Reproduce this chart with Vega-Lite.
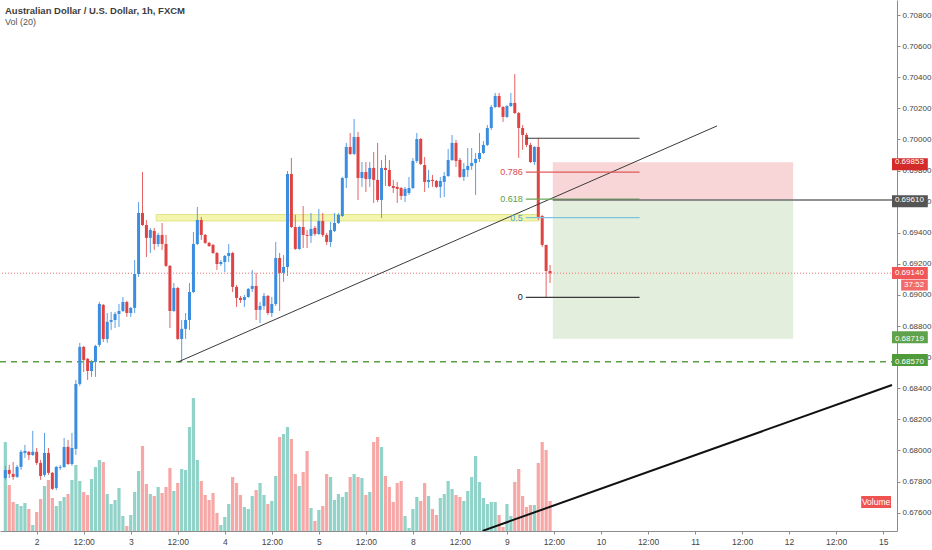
{
  "$schema": "https://vega.github.io/schema/vega-lite/v6.json",
  "width": 897,
  "height": 531,
  "autosize": {"type": "none"},
  "padding": {"left": 0, "top": 0, "right": 35, "bottom": 19},
  "background": "#ffffff",
  "title": {
    "text": "Australian Dollar / U.S. Dollar, 1h, FXCM",
    "subtitle": "Vol (20)",
    "anchor": "start",
    "frame": "group",
    "offset": -27,
    "dx": 5,
    "fontSize": 9.5,
    "fontWeight": 600,
    "color": "#3d3d3d",
    "subtitleFontSize": 9,
    "subtitleColor": "#555555",
    "subtitlePadding": 3
  },
  "config": {
    "view": {"stroke": null},
    "font": "Liberation Sans Narrow, Liberation Sans, sans-serif",
    "text": {"font": "Liberation Sans Narrow, Liberation Sans, sans-serif"},
    "axis": {"labelFont": "Liberation Sans Narrow, Liberation Sans, sans-serif", "grid": false}
  },
  "datasets": {
    "bars": [
      {"i": -1, "o": 0.67823, "h": 0.67901, "l": 0.67811, "c": 0.67875, "v": 2225},
      {"i": 0, "o": 0.67875, "h": 0.67907, "l": 0.67823, "c": 0.67849, "v": 1150},
      {"i": 1, "o": 0.67849, "h": 0.67926, "l": 0.67811, "c": 0.6783, "v": 725},
      {"i": 2, "o": 0.6783, "h": 0.67907, "l": 0.67823, "c": 0.67894, "v": 675},
      {"i": 3, "o": 0.67894, "h": 0.68004, "l": 0.67875, "c": 0.67991, "v": 625},
      {"i": 4, "o": 0.67984, "h": 0.68036, "l": 0.67952, "c": 0.67997, "v": 700},
      {"i": 5, "o": 0.67991, "h": 0.67997, "l": 0.67939, "c": 0.67971, "v": 550},
      {"i": 6, "o": 0.67971, "h": 0.68126, "l": 0.67965, "c": 0.67991, "v": 150},
      {"i": 7, "o": 0.67991, "h": 0.68016, "l": 0.67907, "c": 0.6792, "v": 475},
      {"i": 8, "o": 0.6792, "h": 0.67939, "l": 0.67811, "c": 0.67836, "v": 800},
      {"i": 9, "o": 0.67843, "h": 0.68113, "l": 0.6783, "c": 0.67984, "v": 1125},
      {"i": 10, "o": 0.67984, "h": 0.68016, "l": 0.67843, "c": 0.67856, "v": 1275},
      {"i": 11, "o": 0.67856, "h": 0.67862, "l": 0.67746, "c": 0.67753, "v": 825},
      {"i": 12, "o": 0.67759, "h": 0.67901, "l": 0.67746, "c": 0.67894, "v": 625},
      {"i": 13, "o": 0.67888, "h": 0.67907, "l": 0.67875, "c": 0.67894, "v": 750},
      {"i": 14, "o": 0.67894, "h": 0.68081, "l": 0.67888, "c": 0.68023, "v": 850},
      {"i": 15, "o": 0.68023, "h": 0.68068, "l": 0.67907, "c": 0.67913, "v": 925},
      {"i": 16, "o": 0.67913, "h": 0.68113, "l": 0.67901, "c": 0.68016, "v": 1275},
      {"i": 17, "o": 0.6801, "h": 0.68454, "l": 0.67971, "c": 0.68428, "v": 1650},
      {"i": 18, "o": 0.68428, "h": 0.68692, "l": 0.68415, "c": 0.68666, "v": 1250},
      {"i": 19, "o": 0.68666, "h": 0.68672, "l": 0.68505, "c": 0.68582, "v": 975},
      {"i": 20, "o": 0.68589, "h": 0.68595, "l": 0.68454, "c": 0.68511, "v": 900},
      {"i": 21, "o": 0.68511, "h": 0.68582, "l": 0.68473, "c": 0.68569, "v": 1300},
      {"i": 22, "o": 0.68569, "h": 0.68679, "l": 0.68473, "c": 0.68672, "v": 1600},
      {"i": 23, "o": 0.68679, "h": 0.68955, "l": 0.68666, "c": 0.68942, "v": 1775},
      {"i": 24, "o": 0.68936, "h": 0.68942, "l": 0.68698, "c": 0.68717, "v": 1725},
      {"i": 25, "o": 0.68717, "h": 0.68884, "l": 0.68692, "c": 0.68827, "v": 925},
      {"i": 26, "o": 0.68827, "h": 0.68891, "l": 0.68775, "c": 0.68839, "v": 675},
      {"i": 27, "o": 0.68839, "h": 0.68891, "l": 0.68788, "c": 0.68878, "v": 775},
      {"i": 28, "o": 0.68878, "h": 0.68942, "l": 0.68794, "c": 0.68897, "v": 1075},
      {"i": 29, "o": 0.68897, "h": 0.68987, "l": 0.68891, "c": 0.68955, "v": 375},
      {"i": 30, "o": 0.68955, "h": 0.68962, "l": 0.68859, "c": 0.68884, "v": 125},
      {"i": 31, "o": 0.68884, "h": 0.68923, "l": 0.68859, "c": 0.68917, "v": 400},
      {"i": 32, "o": 0.68917, "h": 0.69225, "l": 0.68884, "c": 0.69135, "v": 975},
      {"i": 33, "o": 0.69135, "h": 0.69598, "l": 0.69116, "c": 0.69527, "v": 1500},
      {"i": 34, "o": 0.69527, "h": 0.69791, "l": 0.69444, "c": 0.6945, "v": 2125},
      {"i": 35, "o": 0.6945, "h": 0.69482, "l": 0.69244, "c": 0.69367, "v": 1175},
      {"i": 36, "o": 0.69367, "h": 0.69431, "l": 0.6927, "c": 0.69418, "v": 925},
      {"i": 37, "o": 0.69412, "h": 0.69431, "l": 0.6929, "c": 0.69328, "v": 875},
      {"i": 38, "o": 0.69328, "h": 0.69399, "l": 0.69309, "c": 0.69386, "v": 1100},
      {"i": 39, "o": 0.69386, "h": 0.69463, "l": 0.6929, "c": 0.69328, "v": 950},
      {"i": 40, "o": 0.69328, "h": 0.69386, "l": 0.6918, "c": 0.69187, "v": 1100},
      {"i": 41, "o": 0.69187, "h": 0.69193, "l": 0.68788, "c": 0.68897, "v": 1575},
      {"i": 42, "o": 0.68897, "h": 0.69077, "l": 0.68891, "c": 0.69045, "v": 1000},
      {"i": 43, "o": 0.69045, "h": 0.69052, "l": 0.68711, "c": 0.68717, "v": 1200},
      {"i": 44, "o": 0.68717, "h": 0.68839, "l": 0.68569, "c": 0.68782, "v": 1550},
      {"i": 45, "o": 0.68782, "h": 0.68884, "l": 0.68717, "c": 0.68839, "v": 1525},
      {"i": 46, "o": 0.68839, "h": 0.69077, "l": 0.68775, "c": 0.69019, "v": 2600},
      {"i": 47, "o": 0.69019, "h": 0.69405, "l": 0.69013, "c": 0.69328, "v": 3325},
      {"i": 48, "o": 0.69328, "h": 0.69566, "l": 0.69322, "c": 0.69482, "v": 1775},
      {"i": 49, "o": 0.69482, "h": 0.69502, "l": 0.69354, "c": 0.69386, "v": 1250},
      {"i": 50, "o": 0.69386, "h": 0.69392, "l": 0.69328, "c": 0.69335, "v": 900},
      {"i": 51, "o": 0.69335, "h": 0.69341, "l": 0.69309, "c": 0.69315, "v": 775},
      {"i": 52, "o": 0.69322, "h": 0.69328, "l": 0.69264, "c": 0.6927, "v": 950},
      {"i": 53, "o": 0.6927, "h": 0.69277, "l": 0.69161, "c": 0.69199, "v": 450},
      {"i": 54, "o": 0.69199, "h": 0.69225, "l": 0.69187, "c": 0.69212, "v": 150},
      {"i": 55, "o": 0.69212, "h": 0.69257, "l": 0.69148, "c": 0.69251, "v": 350},
      {"i": 56, "o": 0.69251, "h": 0.69328, "l": 0.69212, "c": 0.6927, "v": 675},
      {"i": 57, "o": 0.6927, "h": 0.69277, "l": 0.69019, "c": 0.69052, "v": 1350},
      {"i": 58, "o": 0.69052, "h": 0.69064, "l": 0.68923, "c": 0.68981, "v": 1200},
      {"i": 59, "o": 0.68981, "h": 0.68994, "l": 0.68949, "c": 0.68968, "v": 900},
      {"i": 60, "o": 0.68968, "h": 0.69, "l": 0.68923, "c": 0.68987, "v": 600},
      {"i": 61, "o": 0.68987, "h": 0.69045, "l": 0.68981, "c": 0.69039, "v": 550},
      {"i": 62, "o": 0.69039, "h": 0.69161, "l": 0.69019, "c": 0.69058, "v": 875},
      {"i": 63, "o": 0.69058, "h": 0.69142, "l": 0.68839, "c": 0.68904, "v": 1025},
      {"i": 64, "o": 0.68904, "h": 0.68955, "l": 0.6882, "c": 0.68929, "v": 1200},
      {"i": 65, "o": 0.68929, "h": 0.69013, "l": 0.68904, "c": 0.68994, "v": 900},
      {"i": 66, "o": 0.68994, "h": 0.69, "l": 0.68872, "c": 0.68884, "v": 675},
      {"i": 67, "o": 0.68884, "h": 0.68987, "l": 0.68859, "c": 0.68942, "v": 750},
      {"i": 68, "o": 0.68942, "h": 0.69341, "l": 0.68929, "c": 0.69238, "v": 1375},
      {"i": 69, "o": 0.69238, "h": 0.6927, "l": 0.68897, "c": 0.69142, "v": 2350},
      {"i": 70, "o": 0.69142, "h": 0.69257, "l": 0.69084, "c": 0.6918, "v": 2425},
      {"i": 71, "o": 0.6918, "h": 0.69797, "l": 0.69122, "c": 0.69778, "v": 2600},
      {"i": 72, "o": 0.69778, "h": 0.69881, "l": 0.69431, "c": 0.69437, "v": 2300},
      {"i": 73, "o": 0.69437, "h": 0.69515, "l": 0.6929, "c": 0.69296, "v": 1425},
      {"i": 74, "o": 0.69296, "h": 0.69444, "l": 0.6929, "c": 0.69437, "v": 1125},
      {"i": 75, "o": 0.69437, "h": 0.69572, "l": 0.69302, "c": 0.69386, "v": 1475},
      {"i": 76, "o": 0.69386, "h": 0.69418, "l": 0.69302, "c": 0.6938, "v": 2000},
      {"i": 77, "o": 0.6938, "h": 0.69527, "l": 0.69335, "c": 0.69425, "v": 575},
      {"i": 78, "o": 0.69431, "h": 0.69444, "l": 0.6938, "c": 0.69392, "v": 250},
      {"i": 79, "o": 0.69392, "h": 0.69553, "l": 0.69386, "c": 0.69476, "v": 525},
      {"i": 80, "o": 0.69476, "h": 0.69527, "l": 0.69373, "c": 0.69386, "v": 625},
      {"i": 81, "o": 0.69386, "h": 0.69399, "l": 0.69322, "c": 0.69341, "v": 1425},
      {"i": 82, "o": 0.69341, "h": 0.6947, "l": 0.69309, "c": 0.69418, "v": 1350},
      {"i": 83, "o": 0.69412, "h": 0.69527, "l": 0.69405, "c": 0.69463, "v": 775},
      {"i": 84, "o": 0.69463, "h": 0.69527, "l": 0.69457, "c": 0.69515, "v": 925},
      {"i": 85, "o": 0.69508, "h": 0.69759, "l": 0.69502, "c": 0.69752, "v": 850},
      {"i": 86, "o": 0.69752, "h": 0.69978, "l": 0.69688, "c": 0.69952, "v": 975},
      {"i": 87, "o": 0.69952, "h": 0.70042, "l": 0.699, "c": 0.69907, "v": 1350},
      {"i": 88, "o": 0.69907, "h": 0.70132, "l": 0.699, "c": 0.70016, "v": 1425},
      {"i": 89, "o": 0.70016, "h": 0.70048, "l": 0.69611, "c": 0.69752, "v": 1350},
      {"i": 90, "o": 0.69752, "h": 0.69855, "l": 0.69695, "c": 0.69791, "v": 1325},
      {"i": 91, "o": 0.69791, "h": 0.69855, "l": 0.69662, "c": 0.69746, "v": 900},
      {"i": 92, "o": 0.69746, "h": 0.69855, "l": 0.69695, "c": 0.69817, "v": 975},
      {"i": 93, "o": 0.69817, "h": 0.6992, "l": 0.69592, "c": 0.6974, "v": 2225},
      {"i": 94, "o": 0.6974, "h": 0.69978, "l": 0.69598, "c": 0.69611, "v": 2350},
      {"i": 95, "o": 0.69611, "h": 0.69868, "l": 0.69495, "c": 0.69817, "v": 2100},
      {"i": 96, "o": 0.69817, "h": 0.699, "l": 0.69701, "c": 0.69804, "v": 1375},
      {"i": 97, "o": 0.69804, "h": 0.69868, "l": 0.69695, "c": 0.69701, "v": 1100},
      {"i": 98, "o": 0.69701, "h": 0.6974, "l": 0.69656, "c": 0.69688, "v": 725},
      {"i": 99, "o": 0.69695, "h": 0.69727, "l": 0.69592, "c": 0.69682, "v": 1200},
      {"i": 100, "o": 0.69688, "h": 0.69695, "l": 0.69611, "c": 0.69637, "v": 1250},
      {"i": 101, "o": 0.69637, "h": 0.69695, "l": 0.69598, "c": 0.69682, "v": 375},
      {"i": 102, "o": 0.69656, "h": 0.69759, "l": 0.69643, "c": 0.69688, "v": 75},
      {"i": 103, "o": 0.69688, "h": 0.69881, "l": 0.69682, "c": 0.69862, "v": 550},
      {"i": 104, "o": 0.69862, "h": 0.70042, "l": 0.69849, "c": 0.70003, "v": 850},
      {"i": 105, "o": 0.70003, "h": 0.7001, "l": 0.69836, "c": 0.69842, "v": 750},
      {"i": 106, "o": 0.69836, "h": 0.69887, "l": 0.69662, "c": 0.69727, "v": 1200},
      {"i": 107, "o": 0.69727, "h": 0.69804, "l": 0.69688, "c": 0.6974, "v": 875},
      {"i": 108, "o": 0.6974, "h": 0.69772, "l": 0.69695, "c": 0.69733, "v": 550},
      {"i": 109, "o": 0.69733, "h": 0.6974, "l": 0.69688, "c": 0.69695, "v": 400},
      {"i": 110, "o": 0.69695, "h": 0.69759, "l": 0.69624, "c": 0.69733, "v": 825},
      {"i": 111, "o": 0.69727, "h": 0.69791, "l": 0.6963, "c": 0.69765, "v": 925},
      {"i": 112, "o": 0.69765, "h": 0.69939, "l": 0.69759, "c": 0.69868, "v": 1250},
      {"i": 113, "o": 0.69868, "h": 0.70029, "l": 0.69862, "c": 0.69978, "v": 1050},
      {"i": 114, "o": 0.69978, "h": 0.69997, "l": 0.69823, "c": 0.69862, "v": 900},
      {"i": 115, "o": 0.69868, "h": 0.69881, "l": 0.69752, "c": 0.69759, "v": 850},
      {"i": 116, "o": 0.69759, "h": 0.69849, "l": 0.69733, "c": 0.6981, "v": 750},
      {"i": 117, "o": 0.69804, "h": 0.69945, "l": 0.69759, "c": 0.6983, "v": 1000},
      {"i": 118, "o": 0.6983, "h": 0.69945, "l": 0.69804, "c": 0.69849, "v": 1350},
      {"i": 119, "o": 0.69849, "h": 0.69913, "l": 0.69643, "c": 0.69875, "v": 1875},
      {"i": 120, "o": 0.69875, "h": 0.70042, "l": 0.69855, "c": 0.69913, "v": 1225},
      {"i": 121, "o": 0.69913, "h": 0.6999, "l": 0.69907, "c": 0.69965, "v": 825},
      {"i": 122, "o": 0.69965, "h": 0.70093, "l": 0.69958, "c": 0.70074, "v": 675},
      {"i": 123, "o": 0.70074, "h": 0.70222, "l": 0.70061, "c": 0.70209, "v": 725},
      {"i": 124, "o": 0.70209, "h": 0.70299, "l": 0.70203, "c": 0.7028, "v": 725},
      {"i": 125, "o": 0.7028, "h": 0.70299, "l": 0.70203, "c": 0.70209, "v": 400},
      {"i": 126, "o": 0.70209, "h": 0.70215, "l": 0.70113, "c": 0.70145, "v": 100},
      {"i": 127, "o": 0.70145, "h": 0.70222, "l": 0.70138, "c": 0.70215, "v": 675},
      {"i": 128, "o": 0.70215, "h": 0.70299, "l": 0.70209, "c": 0.70235, "v": 375},
      {"i": 129, "o": 0.70235, "h": 0.70421, "l": 0.70164, "c": 0.7017, "v": 1225},
      {"i": 130, "o": 0.7017, "h": 0.70177, "l": 0.69881, "c": 0.70074, "v": 1550},
      {"i": 131, "o": 0.70074, "h": 0.70093, "l": 0.69933, "c": 0.70029, "v": 875},
      {"i": 132, "o": 0.70029, "h": 0.70042, "l": 0.69952, "c": 0.69965, "v": 600},
      {"i": 133, "o": 0.69965, "h": 0.69978, "l": 0.69849, "c": 0.69855, "v": 650},
      {"i": 134, "o": 0.69855, "h": 0.69958, "l": 0.69836, "c": 0.69952, "v": 650},
      {"i": 135, "o": 0.69952, "h": 0.70008, "l": 0.69482, "c": 0.69502, "v": 1700},
      {"i": 136, "o": 0.69508, "h": 0.69515, "l": 0.69309, "c": 0.69322, "v": 2225},
      {"i": 137, "o": 0.69322, "h": 0.69322, "l": 0.68985, "c": 0.69154, "v": 2025},
      {"i": 138, "o": 0.69154, "h": 0.69193, "l": 0.69077, "c": 0.6914, "v": 750}
    ],
    "fib": [
      {"level": "1", "label": "", "p": 0.70008, "from": 131.82, "to": 160.84},
      {"level": "0.786", "label": "0.786", "p": 0.6979, "from": 131.82, "to": 160.84},
      {"level": "0.618", "label": "0.618", "p": 0.69617, "from": 131.82, "to": 160.84},
      {"level": "0.5", "label": "0.5", "p": 0.69497, "from": 131.82, "to": 160.84},
      {"level": "0", "label": "0", "p": 0.68985, "from": 131.82, "to": 160.84}
    ],
    "tags": [
      {"p": 0.69853, "t": "0.69853", "k": "stop"},
      {"p": 0.6961, "t": "0.69610", "k": "entry"},
      {"p": 0.6914, "t": "0.69140", "k": "last"},
      {"p": 0.68719, "t": "0.68719", "k": "target"},
      {"p": 0.6857, "t": "0.68570", "k": "line"}
    ]
  },
  "layer": [
    {
      "data": {"values": [
        {"k": "stop", "from": 138.7, "to": 200.03, "top": 0.69853, "bottom": 0.6961},
        {"k": "target", "from": 138.7, "to": 200.03, "top": 0.6961, "bottom": 0.68719}
      ]},
      "mark": {"type": "rect"},
      "encoding": {
        "x": {"field": "from", "type": "quantitative", "scale": {"domain": [-1.085, 225.26], "nice": false, "zero": false}, "axis": null},
        "x2": {"field": "to"},
        "y": {"field": "top", "type": "quantitative", "scale": {"domain": [0.67482, 0.70897], "nice": false, "zero": false}, "axis": null},
        "y2": {"field": "bottom"},
        "color": {"field": "k", "type": "nominal", "scale": {"domain": ["stop", "target"], "range": ["#f8d6d8", "#e4eedd"]}, "legend": null}
      }
    },
    {
      "data": {"values": [{"from": 37.5, "to": 135.2, "lo": 0.69476, "hi": 0.69517}]},
      "mark": {"type": "rect", "fill": "#f4f6ad", "stroke": "#e0e388", "strokeWidth": 1},
      "encoding": {
        "x": {"field": "from", "type": "quantitative", "scale": {"domain": [-1.085, 225.26], "nice": false, "zero": false}, "axis": null},
        "x2": {"field": "to"},
        "y": {"field": "hi", "type": "quantitative", "scale": {"domain": [0.67482, 0.70897], "nice": false, "zero": false}, "axis": null},
        "y2": {"field": "lo"}
      }
    },
    {
      "data": {"name": "bars"},
      "mark": {"type": "bar", "size": 3.2},
      "encoding": {
        "x": {"field": "i", "type": "quantitative", "scale": {"domain": [-1.085, 225.26], "nice": false, "zero": false}, "axis": null},
        "y": {"field": "v", "type": "quantitative", "scale": {"domain": [0, 13275], "nice": false}, "axis": null},
        "color": {"condition": {"test": "datum.c >= datum.o", "value": "#92d3c9"}, "value": "#f6a7a6"}
      }
    },
    {
      "data": {"values": [{"lo": 575, "hi": 875, "from": 217.4, "to": 225.0}]},
      "mark": {"type": "rect", "color": "#ef5350"},
      "encoding": {
        "x": {"field": "from", "type": "quantitative", "scale": {"domain": [-1.085, 225.26], "nice": false, "zero": false}, "axis": null},
        "x2": {"field": "to"},
        "y": {"field": "lo", "type": "quantitative", "scale": {"domain": [0, 13275], "nice": false}, "axis": null},
        "y2": {"field": "hi"}
      }
    },
    {
      "data": {"values": [{"v": 725, "t": "Volume", "mid": 221.2}]},
      "mark": {"type": "text", "color": "#ffffff", "fontSize": 8.5, "align": "center", "baseline": "middle"},
      "encoding": {
        "x": {"field": "mid", "type": "quantitative", "scale": {"domain": [-1.085, 225.26], "nice": false, "zero": false}, "axis": null},
        "y": {"field": "v", "type": "quantitative", "scale": {"domain": [0, 13275], "nice": false}, "axis": null},
        "text": {"field": "t"}
      }
    },
    {
      "data": {"values": [{"p": 0.6857}]},
      "mark": {"type": "rule", "color": "#5c9e44", "strokeWidth": 1.5, "strokeDash": [6, 5]},
      "encoding": {
        "y": {"field": "p", "type": "quantitative", "scale": {"domain": [0.67482, 0.70897], "nice": false, "zero": false}, "axis": null}
      }
    },
    {
      "data": {"values": [{"p": 0.6914}]},
      "mark": {"type": "rule", "color": "#f07070", "strokeWidth": 1, "strokeDash": [1, 2]},
      "encoding": {
        "y": {"field": "p", "type": "quantitative", "scale": {"domain": [0.67482, 0.70897], "nice": false, "zero": false}, "axis": null}
      }
    },
    {
      "data": {"name": "bars"},
      "mark": {"type": "rule", "strokeWidth": 1},
      "encoding": {
        "x": {"field": "i", "type": "quantitative", "scale": {"domain": [-1.085, 225.26], "nice": false, "zero": false}, "axis": null},
        "y": {"field": "l", "type": "quantitative", "scale": {"domain": [0.67482, 0.70897], "nice": false, "zero": false}, "axis": null},
        "y2": {"field": "h"},
        "color": {"condition": {"test": "datum.c >= datum.o", "value": "#5a9fe4"}, "value": "#e66363"}
      }
    },
    {
      "data": {"name": "bars"},
      "mark": {"type": "bar", "size": 3},
      "encoding": {
        "x": {
          "field": "i", "type": "quantitative",
          "scale": {"domain": [-1.085, 225.26], "nice": false, "zero": false},
          "axis": {
            "orient": "bottom",
            "title": null,
            "grid": false,
            "values": [7, 19, 31, 43, 55, 67, 79, 91, 103, 115, 127, 139, 151, 163, 175, 187, 199, 211, 223],
            "labelExpr": "(datum.value - 7) % 24 == 12 ? '12:00' : ['2','3','4','5','8','9','10','11','12','15'][(datum.value - 7) / 24]",
            "labelFontSize": 8.5,
            "labelColor": "#444444",
            "labelPadding": 3,
            "labelFlush": false,
            "labelOverlap": false,
            "domainColor": "#8c8c8c",
            "tickColor": "#8c8c8c",
            "tickSize": 3
          }
        },
        "y": {
          "field": "o", "type": "quantitative",
          "scale": {"domain": [0.67482, 0.70897], "nice": false, "zero": false},
          "axis": {
            "orient": "right",
            "title": null,
            "grid": false,
            "values": [0.676, 0.678, 0.68, 0.682, 0.684, 0.686, 0.688, 0.69, 0.692, 0.694, 0.696, 0.698, 0.7, 0.702, 0.704, 0.706, 0.708],
            "format": ".5f",
            "labelFontSize": 8,
            "labelColor": "#444444",
            "labelPadding": 2,
            "domainColor": "#8c8c8c",
            "tickColor": "#8c8c8c",
            "tickSize": 3
          }
        },
        "y2": {"field": "c"},
        "color": {"condition": {"test": "datum.c >= datum.o", "value": "#3b8de0"}, "value": "#e04343"}
      }
    },
    {
      "data": {"values": [{"i": 43.07, "p": 0.68569}, {"i": 180.6, "p": 0.70087}]},
      "mark": {"type": "line", "color": "#3a3a3a", "strokeWidth": 1},
      "encoding": {
        "x": {"field": "i", "type": "quantitative", "scale": {"domain": [-1.085, 225.26], "nice": false, "zero": false}, "axis": null},
        "y": {"field": "p", "type": "quantitative", "scale": {"domain": [0.67482, 0.70897], "nice": false, "zero": false}, "axis": null}
      }
    },
    {
      "data": {"values": [{"i": 120.79, "p": 0.67483}, {"i": 225.26, "p": 0.68421}]},
      "mark": {"type": "line", "color": "#111111", "strokeWidth": 2, "clip": true},
      "encoding": {
        "x": {"field": "i", "type": "quantitative", "scale": {"domain": [-1.085, 225.26], "nice": false, "zero": false}, "axis": null},
        "y": {"field": "p", "type": "quantitative", "scale": {"domain": [0.67482, 0.70897], "nice": false, "zero": false}, "axis": null}
      }
    },
    {
      "data": {"name": "fib"},
      "mark": {"type": "rule", "strokeWidth": 1.2},
      "encoding": {
        "x": {"field": "from", "type": "quantitative", "scale": {"domain": [-1.085, 225.26], "nice": false, "zero": false}, "axis": null},
        "x2": {"field": "to"},
        "y": {"field": "p", "type": "quantitative", "scale": {"domain": [0.67482, 0.70897], "nice": false, "zero": false}, "axis": null},
        "color": {"field": "level", "type": "nominal", "scale": {"domain": ["1", "0.786", "0.618", "0.5", "0"], "range": ["#3a3a3a", "#e0585a", "#6aa85a", "#7cc3e0", "#3a3a3a"]}, "legend": null}
      }
    },
    {
      "data": {"name": "fib"},
      "mark": {"type": "text", "align": "right", "baseline": "middle", "dx": -3, "fontSize": 9},
      "encoding": {
        "x": {"field": "from", "type": "quantitative", "scale": {"domain": [-1.085, 225.26], "nice": false, "zero": false}, "axis": null},
        "y": {"field": "p", "type": "quantitative", "scale": {"domain": [0.67482, 0.70897], "nice": false, "zero": false}, "axis": null},
        "text": {"field": "label"},
        "color": {"field": "level", "type": "nominal", "scale": {"domain": ["1", "0.786", "0.618", "0.5", "0"], "range": ["#3a3a3a", "#d94a4c", "#5a9e4a", "#4aa6d6", "#222222"]}, "legend": null}
      }
    },
    {
      "data": {"values": [{"p": 0.6961, "from": 138.7, "to": 225.26}]},
      "mark": {"type": "rule", "color": "#6e6e6e", "strokeWidth": 1.5},
      "encoding": {
        "x": {"field": "from", "type": "quantitative", "scale": {"domain": [-1.085, 225.26], "nice": false, "zero": false}, "axis": null},
        "x2": {"field": "to"},
        "y": {"field": "p", "type": "quantitative", "scale": {"domain": [0.67482, 0.70897], "nice": false, "zero": false}, "axis": null}
      }
    },
    {
      "data": {"name": "tags"},
      "mark": {"type": "bar", "orient": "horizontal", "size": 12},
      "encoding": {
        "x": {"datum": 225.26, "type": "quantitative", "scale": {"domain": [-1.085, 225.26], "nice": false, "zero": false}, "axis": null},
        "x2": {"datum": 234.4},
        "y": {"field": "p", "type": "quantitative", "scale": {"domain": [0.67482, 0.70897], "nice": false, "zero": false}, "axis": null},
        "color": {"field": "k", "type": "nominal", "scale": {"domain": ["stop", "entry", "last", "target", "line"], "range": ["#d42a2a", "#555555", "#f05656", "#5ea24b", "#4f9b3b"]}, "legend": null}
      }
    },
    {
      "data": {"name": "tags"},
      "mark": {"type": "text", "color": "#ffffff", "fontSize": 8, "align": "center", "baseline": "middle"},
      "encoding": {
        "x": {"datum": 229.7, "type": "quantitative", "scale": {"domain": [-1.085, 225.26], "nice": false, "zero": false}, "axis": null},
        "y": {"field": "p", "type": "quantitative", "scale": {"domain": [0.67482, 0.70897], "nice": false, "zero": false}, "axis": null},
        "text": {"field": "t"}
      }
    },
    {
      "data": {"values": [{"p": 0.6914}]},
      "mark": {"type": "bar", "orient": "horizontal", "size": 11, "yOffset": 12, "color": "#f26a6a"},
      "encoding": {
        "x": {"datum": 227.6, "type": "quantitative", "scale": {"domain": [-1.085, 225.26], "nice": false, "zero": false}, "axis": null},
        "x2": {"datum": 234.4},
        "y": {"field": "p", "type": "quantitative", "scale": {"domain": [0.67482, 0.70897], "nice": false, "zero": false}, "axis": null}
      }
    },
    {
      "data": {"values": [{"p": 0.6914, "t": "37:52"}]},
      "mark": {"type": "text", "color": "#ffffff", "fontSize": 8, "align": "center", "baseline": "middle", "dy": 12},
      "encoding": {
        "x": {"datum": 230.9, "type": "quantitative", "scale": {"domain": [-1.085, 225.26], "nice": false, "zero": false}, "axis": null},
        "y": {"field": "p", "type": "quantitative", "scale": {"domain": [0.67482, 0.70897], "nice": false, "zero": false}, "axis": null},
        "text": {"field": "t"}
      }
    }
  ],
  "resolve": {"scale": {"y": "independent", "color": "independent"}, "axis": {"x": "independent"}}
}
